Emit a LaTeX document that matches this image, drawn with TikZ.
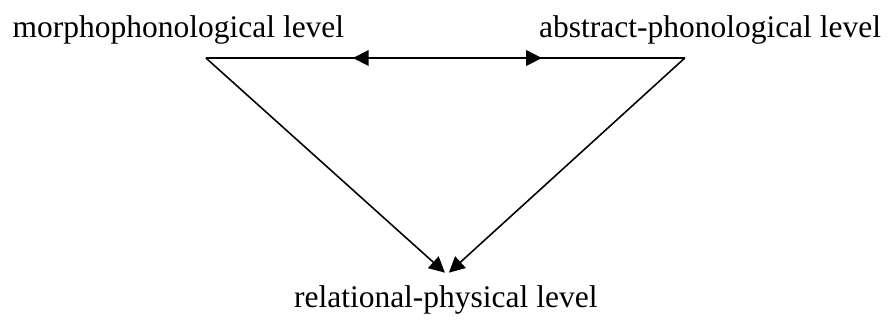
\documentclass[tikz,border=0pt]{standalone}
\usepackage{fontspec}
\setmainfont{Liberation Serif}
\usetikzlibrary{arrows.meta}

\begin{document}
\begin{tikzpicture}[>={Triangle[length=2.1mm,width=2.1mm]},
  lvl/.style={anchor=base,inner sep=0pt,font=\fontsize{12}{14}\selectfont},
  link/.style={draw=black,line width=0.6pt}]
\useasboundingbox (0,0) rectangle (11.92,-4.285);
\node[lvl] (morph) at (2.39,-0.505) {morphophonological level};
\node[lvl] (abst) at (9.51,-0.505) {abstract-phonological level};
\node[lvl] (rel) at (5.97,-4.124) {relational-physical level};
\coordinate (mc) at (2.758,-0.777);
\coordinate (ac) at (9.172,-0.777);
\coordinate (ml) at (4.727,-0.777);
\coordinate (ar) at (7.257,-0.777);
\coordinate (rl) at (5.959,-3.652);
\coordinate (rr) at (6.012,-3.652);
\draw[link] (mc)--(ac);
\draw[link,<->] (ml)--(ar);
\draw[link,->] (mc)--(rl);
\draw[link,->] (ac)--(rr);
\end{tikzpicture}
\end{document}
